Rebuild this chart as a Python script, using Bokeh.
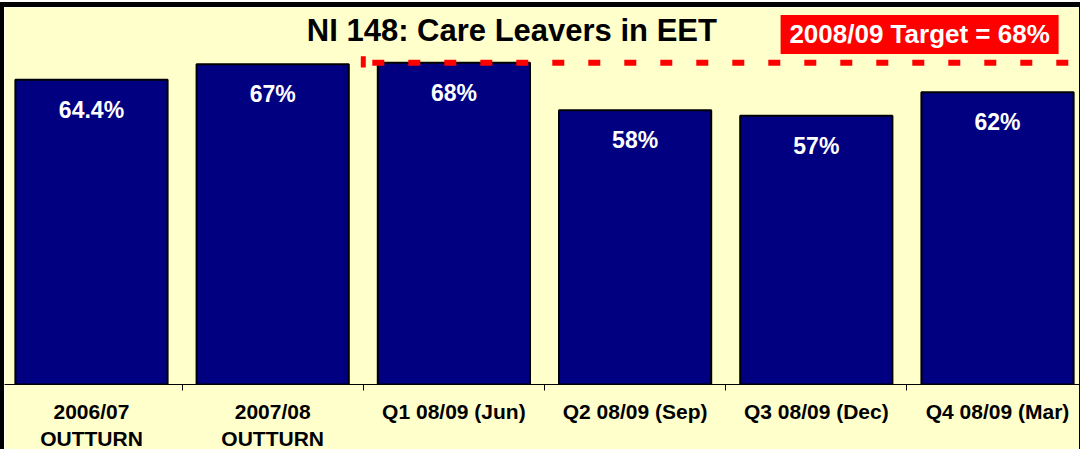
from bokeh.plotting import figure
from bokeh.models import Range1d, LinearAxis, FixedTicker, Label
from bokeh.core.properties import value
from bokeh.embed import file_html
from bokeh.resources import INLINE

# ---- data ----
categories = ["2006/07\nOUTTURN", "2007/08\nOUTTURN", "Q1 08/09 (Jun)",
              "Q2 08/09 (Sep)", "Q3 08/09 (Dec)", "Q4 08/09 (Mar)"]
values = [64.4, 67.7, 68.0, 58.0, 56.8, 61.8]
bar_labels = ["64.4%", "67%", "68%", "58%", "57%", "62%"]
target = 68.0
target_text = "2008/09 Target = 68%"
title_text = "NI 148: Care Leavers in EET"

FONT = "Liberation Sans"
BG = "#FFFFCC"
NAVY = "#000080"

n = len(categories)
centers = [i + 0.5 for i in range(n)]
boundaries = [float(i) for i in range(1, n)]

p = figure(width=1080, height=447, output_backend="svg", toolbar_location=None,
           x_range=Range1d(0.02, n - 0.02), y_range=Range1d(0, 79.7),
           x_axis_location=None, y_axis_location=None,
           min_border_left=0, min_border_right=0, min_border_top=0, min_border_bottom=70,
           background_fill_color=BG, border_fill_color=BG)
p.outline_line_color = None
p.xgrid.visible = False
p.ygrid.visible = False
p.styles = {"margin-top": "2px", "border-top": "5px solid black",
            "border-left": "4px solid black", "border-right": "1px solid black"}

# axis line with ticks at category boundaries
ax1 = LinearAxis(ticker=FixedTicker(ticks=boundaries),
                 major_label_overrides={b: "" for b in boundaries},
                 major_label_text_font_size="0px", major_label_standoff=0,
                 axis_line_color="black", axis_line_width=1,
                 major_tick_line_color="black", major_tick_in=0, major_tick_out=6,
                 minor_tick_line_color=None)
p.add_layout(ax1, "below")

# category labels
ax2 = LinearAxis(ticker=FixedTicker(ticks=centers),
                 major_label_overrides={c: lab for c, lab in zip(centers, categories)},
                 major_label_text_font=FONT, major_label_text_font_style="bold",
                 major_label_text_font_size="21px", major_label_text_color="black",
                 major_label_standoff=9,
                 axis_line_color=None, major_tick_line_color=None,
                 major_tick_in=0, major_tick_out=0, minor_tick_line_color=None)
p.add_layout(ax2, "below")

# bars
p.vbar(x=centers, top=values, width=0.84, bottom=0,
       fill_color=NAVY, line_color="black", line_width=2)

# bar value labels
p.text(x=centers, y=values, text=bar_labels, y_offset=30,
       text_align="center", text_baseline="middle",
       text_color="white", text_font=value(FONT), text_font_style="bold",
       text_font_size="23px")

# target line
p.line(x=[boundaries[1], n + 1], y=[target, target], line_color="red",
       line_width=6, line_dash="12 24", line_dash_offset=27)
p.segment(x0=[boundaries[1]], y0=[target - 1.0], x1=[boundaries[1]], y1=[target + 1.4],
          line_color="red", line_width=5)

# target box
p.rect(x=[5.07], y=[74.0], width=278, height=39, width_units="screen",
       height_units="screen", fill_color="red", line_color=None)
p.add_layout(Label(x=5.07, y=74.0, text=target_text, text_align="center",
                   text_baseline="middle", text_color="white", text_font=FONT,
                   text_font_style="bold", text_font_size="26px"))

# title
p.add_layout(Label(x=2.82, y=74.8, text=title_text, text_align="center",
                   text_baseline="middle", text_color="black", text_font=FONT,
                   text_font_style="bold", text_font_size="31px"))

open("out.html", "w").write(file_html(p, INLINE))
